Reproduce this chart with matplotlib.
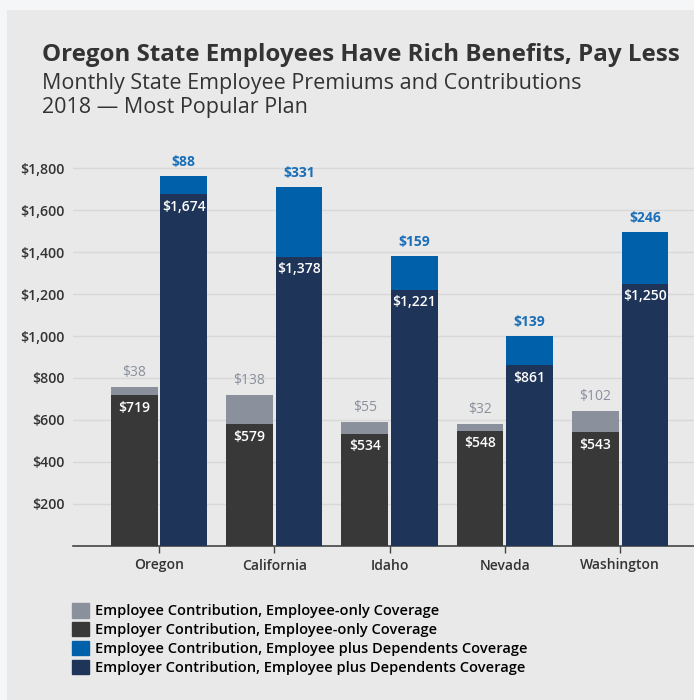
import matplotlib.pyplot as plt
from matplotlib.patches import Rectangle, Patch
import numpy as np

plt.rcParams['font.family'] = ['Open Sans', 'DejaVu Sans']

# donnees 2018, plan le plus populaire (USD par mois)
etats = ['Oregon', 'California', 'Idaho', 'Nevada', 'Washington']
employeur_seul = [719, 579, 534, 548, 543]
employe_seul = [38, 138, 55, 32, 102]
employeur_famille = [1674, 1378, 1221, 861, 1250]
employe_famille = [88, 331, 159, 139, 246]
graduations = [200, 400, 600, 800, 1000, 1200, 1400, 1600, 1800]
legendes = ['Employee Contribution, Employee-only Coverage',
            'Employer Contribution, Employee-only Coverage',
            'Employee Contribution, Employee plus Dependents Coverage',
            'Employer Contribution, Employee plus Dependents Coverage']

c_gris = '#8a909c'
c_noir = '#383838'
c_bleu = '#0060a9'
c_marine = '#1e3459'
c_texte = '#333333'

fig = plt.figure(figsize=(6.94, 7.0), dpi=100, facecolor='#f5f6f8')
fig.patches.append(Rectangle((7 / 694, 0), 1, 1 - 10 / 700, transform=fig.transFigure,
                             facecolor='#e9e9e9', edgecolor='none', zorder=-10))

ax = fig.add_axes([73 / 694, 154 / 700, 1 - 73 / 694, 0.57])
ax.set_facecolor('none')

x = np.arange(len(etats))
larg = 0.405
dx = larg / 2 + 0.012

ax.bar(x - dx, employeur_seul, larg, color=c_noir, zorder=3)
ax.bar(x - dx, employe_seul, larg, bottom=employeur_seul, color=c_gris, zorder=3)
ax.bar(x + dx, employeur_famille, larg, color=c_marine, zorder=3)
ax.bar(x + dx, employe_famille, larg, bottom=employeur_famille, color=c_bleu, zorder=3)

for i in range(len(etats)):
    haut1 = employeur_seul[i] + employe_seul[i]
    haut2 = employeur_famille[i] + employe_famille[i]
    ax.annotate(f'${employe_seul[i]:,}', (x[i] - dx, haut1), xytext=(0, 5), textcoords='offset points',
                ha='center', va='bottom', fontsize=10, color=c_gris)
    ax.annotate(f'${employe_famille[i]:,}', (x[i] + dx, haut2), xytext=(0, 5), textcoords='offset points',
                ha='center', va='bottom', fontsize=10, color='#1a6fb8', fontweight='bold')
    ax.annotate(f'${employeur_seul[i]:,}', (x[i] - dx, employeur_seul[i]), xytext=(0, -4),
                textcoords='offset points', ha='center', va='top', fontsize=10, color='white',
                fontweight='semibold')
    ax.annotate(f'${employeur_famille[i]:,}', (x[i] + dx, employeur_famille[i]), xytext=(0, -4),
                textcoords='offset points', ha='center', va='top', fontsize=10, color='white',
                fontweight='semibold')

ax.set_xlim(-0.745, 4.64)
ax.set_ylim(0, 1900)
ax.set_yticks(graduations)
ax.set_yticklabels([f'${v:,}' for v in graduations], fontsize=10.2, color=c_texte, fontweight='semibold')
ax.set_xticks(x)
ax.set_xticklabels(etats, fontsize=10, color=c_texte, fontweight='semibold')
ax.tick_params(axis='y', length=0, pad=6)
ax.tick_params(axis='x', length=5, width=1, color='#444444', pad=4)
ax.grid(axis='y', color='#d8d8d8', linewidth=1, zorder=0)
for s in ['top', 'right', 'left']:
    ax.spines[s].set_visible(False)
ax.spines['bottom'].set_color('#444444')
ax.spines['bottom'].set_linewidth(1.2)

fig.text(42 / 694, 1 - 55 / 700, 'Oregon State Employees Have Rich Benefits, Pay Less',
         fontsize=17.4, fontweight='bold', color=c_texte, va='center')
fig.text(42 / 694, 1 - 83 / 700, 'Monthly State Employee Premiums and Contributions',
         fontsize=15.5, color=c_texte, va='center')
fig.text(42 / 694, 1 - 107 / 700, '2018 \u2014 Most Popular Plan',
         fontsize=15.5, color=c_texte, va='center')

poignees = [Patch(color=c) for c in [c_gris, c_noir, c_bleu, c_marine]]
fig.legend(poignees, legendes, loc='upper left', bbox_to_anchor=(59 / 694, 1 - 590 / 700),
           frameon=False, handlelength=1.15, handleheight=1.15, handletextpad=0.4,
           labelspacing=0.25, prop={'weight': 'semibold', 'size': 10.5})

fig.savefig('out.png', dpi=100, facecolor=fig.get_facecolor())
